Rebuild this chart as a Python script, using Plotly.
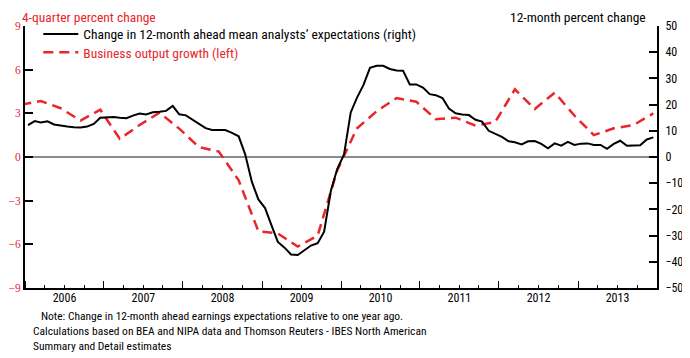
import plotly.graph_objects as go
import pandas as pd

# Business output growth, 4-quarter percent change (left axis), quarterly (mid-quarter)
q_dates = pd.date_range("2005-11-15", periods=33, freq="3MS") + pd.Timedelta(days=14)
output_growth = [3.6,
                 3.85, 3.35, 2.5, 3.25,
                 1.25, 2.2, 3.05, 1.95,
                 0.68, 0.37, -1.6, -5.1,
                 -5.25, -6.15, -5.4, -0.9,
                 1.95, 3.15, 4.05, 3.8,
                 2.6, 2.7, 2.15, 2.4,
                 4.65, 3.3, 4.42, 2.85,
                 1.5, 1.97, 2.2, 3.0]

# Change in 12-month ahead mean analysts' expectations, 12-month percent change (right axis), monthly
m_dates = pd.date_range("2006-01-01", periods=96, freq="MS") + pd.Timedelta(days=14)
expectations = [12.2, 13.7, 13.2, 13.6, 12.4, 11.9, 11.6, 11.4, 11.3, 11.6, 12.6, 15.0,
                15.2, 15.3, 15.0, 14.8, 15.8, 16.6, 16.2, 17.1, 17.3, 17.6, 19.5, 16.3,
                15.9, 14.3, 12.6, 11.0, 10.3, 10.3, 10.3, 9.2, 7.9, 1.0, -9.5, -16.2,
                -19.5, -26.4, -32.4, -34.6, -37.2, -37.4, -35.6, -33.8, -32.9, -28.5, -13.0, -4.5,
                1.0, 17.0, 22.5, 27.5, 34.0, 34.8, 34.8, 33.6, 33.0, 32.9, 27.7, 27.7,
                26.5, 24.0, 23.6, 22.5, 18.5, 16.7, 16.2, 16.0, 14.2, 13.5, 10.0, 8.8,
                7.7, 6.0, 5.6, 4.8, 6.0, 6.1, 5.0, 3.3, 5.2, 4.3, 5.8, 4.6,
                5.1, 5.2, 4.6, 4.6, 3.1, 5.0, 6.2, 4.3, 4.3, 4.5, 6.7, 7.5]

left_ticks = [-9, -6, -3, 0, 3, 6, 9]
right_ticks = [-50, -40, -30, -20, -10, 0, 10, 20, 30, 40, 50]

RED = "#E8262B"
SANS = "Liberation Sans Narrow, Roboto Condensed, Roboto, sans-serif"

fig = go.Figure()
fig.add_trace(go.Scatter(
    x=m_dates, y=expectations, mode="lines", yaxis="y2", legend="legend",
    name="Change in 12-month ahead mean analysts\u2019 expectations (right)",
    line=dict(color="black", width=2)))
fig.add_trace(go.Scatter(
    x=q_dates, y=output_growth, mode="lines", yaxis="y", legend="legend2",
    name="Business output growth (left)",
    line=dict(color=RED, width=2.5, dash="10px,6px")))

leg_common = dict(xanchor="left", yanchor="top", bgcolor="rgba(0,0,0,0)",
                  itemwidth=35, tracegroupgap=0)

# page body has an 8px margin, so the figure is sized/positioned to compensate
fig.update_layout(
    width=682, height=350,
    margin=dict(l=17, r=33, t=18, b=70, autoexpand=False),
    paper_bgcolor="white", plot_bgcolor="white",
    showlegend=True,
    legend=dict(x=0.021, y=1.028, font=dict(family=SANS, size=13.5, color="black"), **leg_common),
    legend2=dict(x=0.021, y=0.958, font=dict(family=SANS, size=13.5, color=RED), **leg_common),
    xaxis=dict(type="date", range=["2006-01-01", "2014-01-01"], automargin=False,
               tick0="2006-01-01", dtick="M12", ticklabelmode="period",
               tickformat="%Y", ticks="inside", ticklen=7, tickwidth=1, tickcolor="black",
               ticklabelstandoff=-2,
               minor=dict(dtick="M3", ticks="inside", ticklen=3, tickcolor="black", showgrid=False),
               showline=True, linecolor="black", linewidth=2, showgrid=False, zeroline=False,
               tickfont=dict(family=SANS, size=12, color="black")),
    yaxis=dict(range=[-9, 9], tickvals=left_ticks, ticks="inside", ticklen=8, tickwidth=2,
               automargin=False, ticklabelstandoff=0,
               tickcolor="black", showline=True, linecolor="black", linewidth=2,
               showgrid=False, zeroline=True, zerolinecolor="#8c8c8c", zerolinewidth=2,
               tickfont=dict(family="Liberation Serif, serif", size=11.5, color=RED)),
    yaxis2=dict(range=[-50, 50], tickvals=right_ticks, overlaying="y", side="right",
                automargin=False, ticklabelstandoff=4,
                ticks="inside", ticklen=8, tickwidth=2, tickcolor="black",
                showline=True, linecolor="black", linewidth=2, showgrid=False, zeroline=False,
                tickfont=dict(family=SANS, size=12, color="black")),
)

fig.add_annotation(text="4-quarter percent change", xref="paper", yref="paper",
                   x=-0.008, y=0.997, xanchor="left", yanchor="bottom", showarrow=False,
                   font=dict(family=SANS, size=13.5, color=RED))
fig.add_annotation(text="12-month percent change", xref="paper", yref="paper",
                   x=0.986, y=0.997, xanchor="right", yanchor="bottom", showarrow=False,
                   font=dict(family=SANS, size=13.5, color="black"))
fig.add_annotation(
    text=("\u00a0\u00a0\u00a0Note: Change in 12-month ahead earnings expectations relative to one year ago.<br>"
          "Calculations based on BEA and NIPA data and Thomson Reuters - IBES North American<br>"
          "Summary and Detail estimates"),
    xref="paper", yref="paper", x=0.01, y=-0.073, xanchor="left", yanchor="top",
    align="left", showarrow=False, font=dict(family=SANS, size=11.5, color="black"))

fig.write_html("out.html")
